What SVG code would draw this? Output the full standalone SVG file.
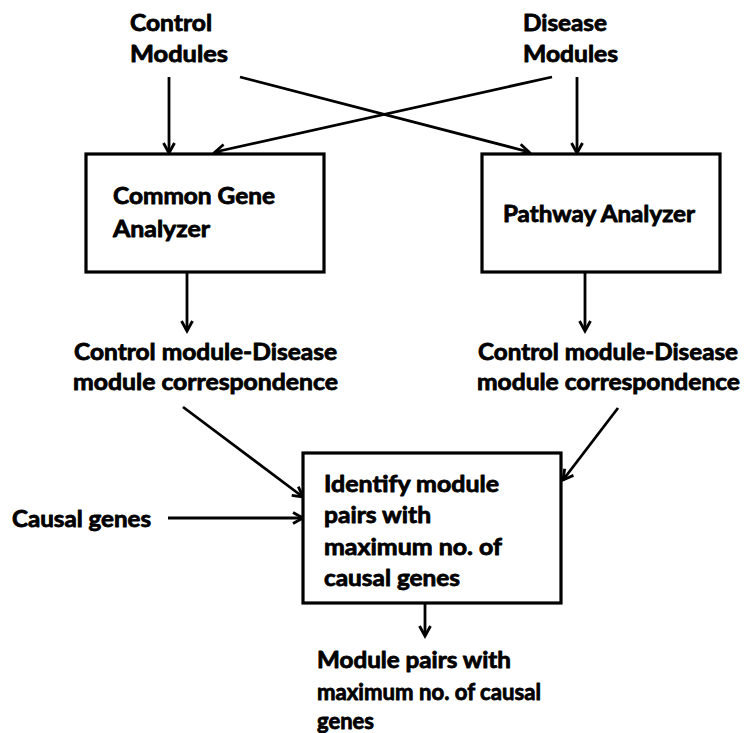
<svg xmlns="http://www.w3.org/2000/svg" width="747" height="733" viewBox="0 0 747 733">
<defs>
<marker id="arr" markerUnits="userSpaceOnUse" markerWidth="14" markerHeight="14" viewBox="0 0 14 14" refX="12" refY="7" orient="auto" overflow="visible">
<path d="M2,1.5 L12,7 L2,12.5" fill="none" stroke="#000" stroke-width="2.8" stroke-linejoin="miter"/>
</marker>
</defs>
<style>
text{font-family:Lato,"Liberation Sans",sans-serif;font-weight:bold;font-size:22.5px;fill:#000;stroke:#000;stroke-width:0.8;stroke-linejoin:round}
.box{fill:#fff;stroke:#000;stroke-width:3.2}
.c{stroke:#000;stroke-width:2.8;fill:none;marker-end:url(#arr)}
</style>
<rect width="747" height="733" fill="#fff"/>
<g id="connectors">
<line class="c" x1="169" y1="77" x2="169" y2="153"/>
<line class="c" x1="240" y1="77" x2="529" y2="152"/>
<line class="c" x1="552" y1="77" x2="215" y2="152"/>
<line class="c" x1="577" y1="77" x2="577" y2="153"/>
<line class="c" x1="187" y1="272" x2="187" y2="331"/>
<line class="c" x1="585" y1="272" x2="585" y2="331"/>
<line class="c" x1="183" y1="407" x2="303" y2="497"/>
<line class="c" x1="618" y1="408" x2="563" y2="480"/>
<line class="c" x1="168" y1="518" x2="303" y2="518"/>
<line class="c" x1="425" y1="604" x2="425" y2="636"/>
</g>
<g id="control-modules">
<text x="130" y="31" textLength="82" lengthAdjust="spacingAndGlyphs">Control</text>
<text x="130" y="62" textLength="98" lengthAdjust="spacingAndGlyphs">Modules</text>
</g>
<g id="disease-modules">
<text x="523" y="31" textLength="84" lengthAdjust="spacingAndGlyphs">Disease</text>
<text x="523" y="62" textLength="95" lengthAdjust="spacingAndGlyphs">Modules</text>
</g>
<g id="common-gene-analyzer">
<rect class="box" x="86" y="154" width="238" height="118"/>
<text x="113" y="204" textLength="162" lengthAdjust="spacingAndGlyphs">Common Gene</text>
<text x="113" y="237" textLength="97" lengthAdjust="spacingAndGlyphs">Analyzer</text>
</g>
<g id="pathway-analyzer">
<rect class="box" x="482" y="154" width="238" height="118"/>
<text x="503" y="222" textLength="192" lengthAdjust="spacingAndGlyphs">Pathway Analyzer</text>
</g>
<g id="correspondence-left">
<text x="74" y="360" textLength="263" lengthAdjust="spacingAndGlyphs">Control module-Disease</text>
<text x="73" y="390" textLength="265" lengthAdjust="spacingAndGlyphs">module correspondence</text>
</g>
<g id="correspondence-right">
<text x="478" y="360" textLength="260" lengthAdjust="spacingAndGlyphs">Control module-Disease</text>
<text x="477" y="390" textLength="263" lengthAdjust="spacingAndGlyphs">module correspondence</text>
</g>
<g id="causal-genes">
<text x="12" y="527" textLength="139" lengthAdjust="spacingAndGlyphs">Causal genes</text>
</g>
<g id="identify">
<rect class="box" x="303" y="453" width="258" height="150"/>
<text x="324" y="492" textLength="175" lengthAdjust="spacingAndGlyphs">Identify module</text>
<text x="324" y="523" textLength="107" lengthAdjust="spacingAndGlyphs">pairs with</text>
<text x="324" y="555" textLength="178" lengthAdjust="spacingAndGlyphs">maximum no. of</text>
<text x="324" y="586" textLength="136" lengthAdjust="spacingAndGlyphs">causal genes</text>
</g>
<g id="module-pairs">
<text x="317" y="668" textLength="194" lengthAdjust="spacingAndGlyphs">Module pairs with</text>
<text x="317" y="700" textLength="224" lengthAdjust="spacingAndGlyphs">maximum no. of causal</text>
<text x="317" y="729" textLength="57" lengthAdjust="spacingAndGlyphs">genes</text>
</g>
</svg>
